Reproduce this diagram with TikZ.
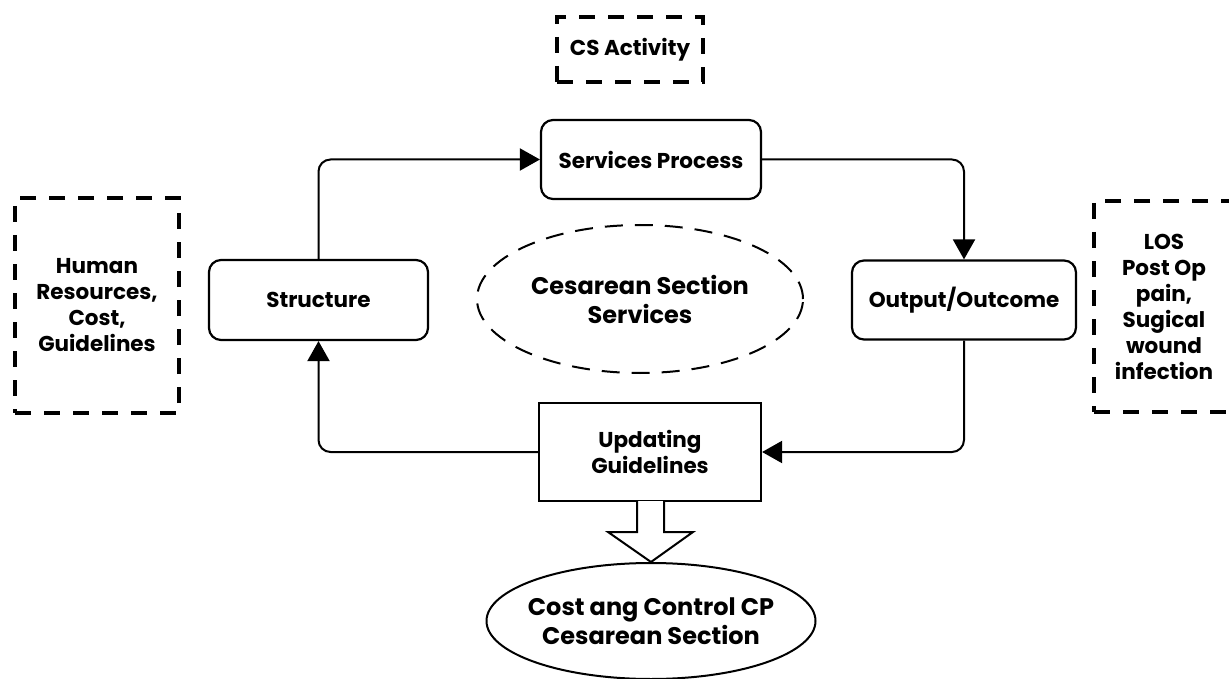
\documentclass[tikz,border=0pt]{standalone}
\usepackage{fontspec}
\setmainfont{Poppins}
\usepackage{tikz}
\usetikzlibrary{arrows.meta,shapes.geometric}

\tikzset{
  roundbox/.style={draw, line width=2.2pt, rounded corners=12pt, align=center,
    font=\fontsize{21.5pt}{26pt}\selectfont\bfseries},
  plainbox/.style={draw, line width=2.2pt, align=center,
    font=\fontsize{21.5pt}{26pt}\selectfont\bfseries},
  notebox/.style={draw, line width=3.6pt, dash pattern=on 16pt off 13pt, align=center,
    font=\fontsize{21.5pt}{26pt}\selectfont\bfseries},
  bigoval/.style={ellipse, draw, line width=2pt, align=center, inner sep=0pt,
    font=\fontsize{24pt}{29pt}\selectfont\bfseries},
  link/.style={line width=2pt, rounded corners=12pt},
}

\begin{document}
\begin{tikzpicture}[x=1pt, y=-1pt, >={Triangle[length=20pt,width=22pt]}]
	  \useasboundingbox (0,0) rectangle (1229,679);
	  % Cycle boxes
	  \node [roundbox, minimum width=220pt, minimum height=79pt] (services) at (651,159.5) {Services Process};
	  \node [roundbox, minimum width=219pt, minimum height=80pt] (structure) at (318.5,300) {Structure};
	  \node [roundbox, minimum width=224pt, minimum height=79pt] (output) at (964,300) {Output/Outcome};
	  \node [plainbox, minimum width=222pt, minimum height=98pt] (updating) at (650,452) {Updating\\Guidelines};
	  % Side notes
	  \node [notebox, minimum width=146pt, minimum height=65pt] (activity) at (630,49.5) {CS Activity};
	  \node [notebox, minimum width=164pt, minimum height=215pt] (resources) at (97,305.5) {Human\\Resources,\\Cost,\\Guidelines};
	  \node [notebox, minimum width=140pt, minimum height=211pt] (los) at (1164,306.5) {LOS\\Post Op\\pain,\\Sugical\\wound\\infection};
	  % Ovals
	  \node [bigoval, dash pattern=on 18pt off 12pt, minimum width=326pt, minimum height=148pt] (cesarean) at (640,299) {Cesarean Section\\Services};
	  \node [bigoval, inner xsep=-8pt, inner ysep=-2pt, minimum width=329pt, minimum height=116pt] (costcp) at (651,621) {Cost ang Control CP\\Cesarean Section};
	  % Connectors
	  \draw [link, ->] (structure.north) |- (services.west);
	  \draw [link, ->] (services.east) -| (output.north);
	  \draw [link, ->] (output.south) |- (updating.east);
	  \draw [link, ->] (updating.west) -| (structure.south);
	  % Hollow arrow
	  \draw [line width=2pt, fill=white, line join=miter]
	    (637,501) -- (637,532) -- (608,532) -- (costcp.north) -- (693,532) -- (664,532) -- (664,501);
	 \end{tikzpicture}
\end{document}
